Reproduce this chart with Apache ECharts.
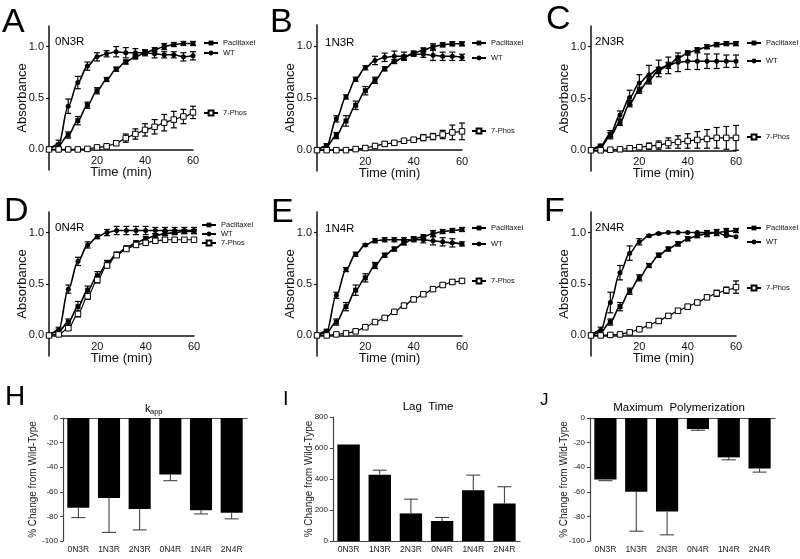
<!DOCTYPE html>
<html><head><meta charset="utf-8">
<script src="https://cdn.jsdelivr.net/npm/echarts@6/dist/echarts.min.js"></script>
<style>html,body{margin:0;padding:0;background:#fff}#c{width:800px;height:559px}</style>
</head><body><div id="c"></div>
<script>
const FONT = 'Liberation Sans, Arial, Helvetica, sans-serif';

// ---------- data ----------
const time = [0, 4, 8, 12, 16, 20, 24, 28, 32, 36, 40, 44, 48, 52, 56, 60];
const panelNames = ['0N3R', '1N3R', '2N3R', '0N4R', '1N4R', '2N4R'];
const seriesNames = ['Paclitaxel', 'WT', '7-Phos'];

const A_wt   = [0, 0.05, 0.42, 0.65, 0.81, 0.90, 0.93, 0.95, 0.94, 0.94, 0.94, 0.93, 0.92, 0.92, 0.90, 0.91];
const A_wtE  = [0, 0.04, 0.07, 0.06, 0.04, 0.04, 0.03, 0.05, 0.05, 0.04, 0.03, 0.04, 0.03, 0.03, 0.04, 0.04];
const A_pac  = [0, 0.04, 0.14, 0.28, 0.43, 0.57, 0.68, 0.78, 0.85, 0.90, 0.94, 0.97, 1.00, 1.02, 1.03, 1.03];
const A_pacE = [0, 0.02, 0.03, 0.04, 0.03, 0.03, 0.02, 0.02, 0.02, 0.02, 0.02, 0.02, 0.03, 0.02, 0.02, 0.02];
const A_ph   = [0, 0, 0, 0, 0.005, 0.02, 0.03, 0.06, 0.11, 0.15, 0.19, 0.22, 0.26, 0.29, 0.32, 0.36];
const A_phE  = [0, 0, 0, 0, 0.005, 0.01, 0.01, 0.02, 0.04, 0.05, 0.06, 0.07, 0.08, 0.08, 0.07, 0.06];

const B_wt   = [0, 0.04, 0.30, 0.51, 0.68, 0.79, 0.86, 0.89, 0.90, 0.90, 0.92, 0.92, 0.91, 0.90, 0.90, 0.89];
const B_wtE  = [0, 0.02, 0.03, 0.02, 0.02, 0.02, 0.04, 0.04, 0.05, 0.04, 0.02, 0.03, 0.05, 0.04, 0.04, 0.03];
const B_pac  = [0, 0.04, 0.14, 0.28, 0.43, 0.57, 0.67, 0.78, 0.85, 0.89, 0.93, 0.96, 0.99, 1.01, 1.02, 1.02];
const B_pacE = [0, 0.02, 0.03, 0.05, 0.04, 0.04, 0.03, 0.02, 0.02, 0.02, 0.02, 0.02, 0.03, 0.02, 0.02, 0.02];
const B_ph   = [0, 0, 0, 0, 0.01, 0.02, 0.04, 0.06, 0.07, 0.09, 0.10, 0.12, 0.13, 0.15, 0.17, 0.18];
const B_phE  = [0, 0, 0, 0.01, 0.01, 0.02, 0.02, 0.02, 0.02, 0.02, 0.02, 0.03, 0.03, 0.04, 0.07, 0.08];

const C_wt   = [0, 0.04, 0.16, 0.34, 0.51, 0.65, 0.73, 0.79, 0.82, 0.85, 0.86, 0.86, 0.86, 0.86, 0.86, 0.86];
const C_wtE  = [0, 0.02, 0.03, 0.04, 0.07, 0.08, 0.09, 0.08, 0.08, 0.09, 0.08, 0.08, 0.07, 0.07, 0.06, 0.06];
const C_pac  = [0, 0.03, 0.14, 0.27, 0.45, 0.58, 0.68, 0.77, 0.82, 0.89, 0.94, 0.97, 1.00, 1.02, 1.03, 1.03];
const C_pacE = [0, 0.02, 0.03, 0.03, 0.03, 0.03, 0.03, 0.03, 0.03, 0.02, 0.02, 0.02, 0.02, 0.02, 0.02, 0.02];
const C_ph   = [0, 0, 0.005, 0.01, 0.02, 0.03, 0.04, 0.05, 0.07, 0.08, 0.09, 0.10, 0.11, 0.12, 0.12, 0.12];
const C_phE  = [0, 0, 0.01, 0.01, 0.02, 0.02, 0.03, 0.04, 0.05, 0.06, 0.07, 0.08, 0.09, 0.10, 0.11, 0.12];

const D_wt   = [0, 0.05, 0.45, 0.72, 0.88, 0.96, 1.00, 1.02, 1.02, 1.02, 1.02, 1.02, 1.02, 1.02, 1.02, 1.02];
const D_wtE  = [0, 0.03, 0.04, 0.04, 0.03, 0.02, 0.03, 0.04, 0.04, 0.04, 0.04, 0.03, 0.03, 0.03, 0.03, 0.03];
const D_pac  = [0, 0.04, 0.13, 0.28, 0.44, 0.58, 0.70, 0.79, 0.85, 0.90, 0.94, 0.97, 0.99, 1.00, 1.01, 1.01];
const D_pacE = [0, 0.02, 0.03, 0.05, 0.04, 0.04, 0.03, 0.02, 0.02, 0.02, 0.02, 0.02, 0.02, 0.02, 0.02, 0.02];
const D_ph   = [0, 0.01, 0.07, 0.21, 0.38, 0.54, 0.68, 0.78, 0.84, 0.88, 0.90, 0.92, 0.93, 0.93, 0.93, 0.93];
const D_phE  = [0, 0.01, 0.02, 0.03, 0.03, 0.03, 0.02, 0.02, 0.02, 0.02, 0.02, 0.02, 0.02, 0.02, 0.02, 0.02];

const E_wt   = [0, 0.04, 0.39, 0.64, 0.79, 0.88, 0.92, 0.93, 0.93, 0.93, 0.93, 0.93, 0.92, 0.91, 0.90, 0.89];
const E_wtE  = [0, 0.02, 0.03, 0.02, 0.02, 0.01, 0.02, 0.02, 0.02, 0.02, 0.02, 0.03, 0.04, 0.04, 0.04, 0.02];
const E_pac  = [0, 0.03, 0.13, 0.28, 0.44, 0.56, 0.68, 0.78, 0.84, 0.90, 0.94, 0.96, 0.99, 1.01, 1.02, 1.03];
const E_pacE = [0, 0.02, 0.03, 0.04, 0.05, 0.04, 0.03, 0.02, 0.02, 0.02, 0.02, 0.02, 0.03, 0.02, 0.02, 0.02];
const E_ph   = [0, 0, 0.01, 0.02, 0.04, 0.08, 0.13, 0.17, 0.23, 0.29, 0.35, 0.40, 0.45, 0.49, 0.52, 0.53];
const E_phE  = [0, 0, 0.01, 0.01, 0.01, 0.01, 0.01, 0.01, 0.01, 0.02, 0.02, 0.02, 0.02, 0.02, 0.02, 0.02];

const F_wt   = [0, 0.05, 0.32, 0.61, 0.80, 0.91, 0.97, 0.99, 1.00, 1.00, 1.00, 1.00, 1.00, 1.00, 0.97, 0.96];
const F_wtE  = [0, 0.03, 0.10, 0.07, 0.07, 0.03, 0.01, 0.01, 0, 0, 0, 0, 0, 0, 0, 0];
const F_pac  = [0, 0.03, 0.13, 0.28, 0.43, 0.56, 0.68, 0.78, 0.84, 0.89, 0.94, 0.97, 0.99, 1.00, 1.01, 1.02];
const F_pacE = [0, 0.02, 0.03, 0.04, 0.03, 0.03, 0.02, 0.02, 0.02, 0.02, 0.02, 0.02, 0.03, 0.03, 0.03, 0.02];
const F_ph   = [0, 0, 0.005, 0.01, 0.03, 0.06, 0.10, 0.14, 0.19, 0.24, 0.28, 0.32, 0.37, 0.41, 0.44, 0.47];
const F_phE  = [0, 0, 0.01, 0.01, 0.01, 0.01, 0.01, 0.02, 0.02, 0.02, 0.02, 0.02, 0.02, 0.03, 0.03, 0.06];

const barCategories = ['0N3R', '1N3R', '2N3R', '0N4R', '1N4R', '2N4R'];
const H_vals = [-73, -65, -74, -46, -75, -77];
const H_err  = [8, 28, 17, 5, 3, 5];
const I_vals = [622, 428, 178, 129, 328, 242];
const I_err  = [0, 29, 92, 23, 97, 108];
const J_vals = [-50, -60, -76, -9, -32, -41];
const J_err  = [1, 32, 19, 1, 2, 3];

const yTicksCurve = [0, 0.5, 1.0];
const xTicksCurve = [20, 40, 60];

// ---------- layout (positions only) ----------
const curvePanels = [
  {wt: A_wt, wtE: A_wtE, pac: A_pac, pacE: A_pacE, ph: A_ph, phE: A_phE},
  {wt: B_wt, wtE: B_wtE, pac: B_pac, pacE: B_pacE, ph: B_ph, phE: B_phE},
  {wt: C_wt, wtE: C_wtE, pac: C_pac, pacE: C_pacE, ph: C_ph, phE: C_phE},
  {wt: D_wt, wtE: D_wtE, pac: D_pac, pacE: D_pacE, ph: D_ph, phE: D_phE},
  {wt: E_wt, wtE: E_wtE, pac: E_pac, pacE: E_pacE, ph: E_ph, phE: E_phE},
  {wt: F_wt, wtE: F_wtE, pac: F_pac, pacE: F_pacE, ph: F_ph, phE: F_phE}
];
const curveGrids = [
  {left: 49, top: 26, width: 144, height: 144},
  {left: 317, top: 25, width: 145, height: 146},
  {left: 591, top: 26, width: 145, height: 145},
  {left: 49, top: 212, width: 145, height: 144},
  {left: 317, top: 212, width: 145, height: 144},
  {left: 591, top: 212, width: 145, height: 144}
];
const legendPos = [ // [x, yCenter] for Paclitaxel, WT, 7-Phos
  [203, [43, 53, 113]],
  [471, [43, 58, 131]],
  [746, [43, 61, 137]],
  [201, [225, 234, 243]],
  [471, [228, 244, 281]],
  [746, [228, 242, 288]]
];
const barGrids = [
  {left: 63, top: 418, width: 184, height: 123},
  {left: 333, top: 417, width: 187, height: 124},
  {left: 590, top: 418, width: 185, height: 123}
];

function errCurve(params, api) {
  const t = api.value(0), y = api.value(1), e = api.value(2);
  if (!e) return null;
  const a = api.coord([t, y + e]), b = api.coord([t, y - e]);
  const w = 3, st = {stroke: '#000', lineWidth: 1.2};
  return {type: 'group', children: [
    {type: 'line', shape: {x1: a[0], y1: a[1], x2: b[0], y2: b[1]}, style: st},
    {type: 'line', shape: {x1: a[0] - w, y1: a[1], x2: a[0] + w, y2: a[1]}, style: st},
    {type: 'line', shape: {x1: b[0] - w, y1: b[1], x2: b[0] + w, y2: b[1]}, style: st}
  ]};
}
function errBar(params, api) {
  const k = api.value(0), v = api.value(1), e = api.value(2);
  if (!e) return null;
  const s = v < 0 ? -1 : 1;
  const p0 = api.coord([k, v]), p1 = api.coord([k, v + s * e]);
  const w = 7, st = {stroke: '#333', lineWidth: 1};
  return {type: 'group', children: [
    {type: 'line', shape: {x1: p0[0], y1: p0[1], x2: p1[0], y2: p1[1]}, style: st},
    {type: 'line', shape: {x1: p1[0] - w, y1: p1[1], x2: p1[0] + w, y2: p1[1]}, style: st}
  ]};
}

const grid = [], xAxis = [], yAxis = [], series = [], legend = [];

curvePanels.forEach((d, i) => {
  grid.push(Object.assign({containLabel: false}, curveGrids[i]));
  xAxis.push({
    type: 'value', gridIndex: i, min: 0, max: 60,
    axisLine: {show: true, onZero: true, lineStyle: {color: '#111', width: 1.5}},
    axisTick: {show: false},
    axisLabel: {show: true, customValues: xTicksCurve, fontSize: 11, color: '#111', margin: -15, fontFamily: FONT},
    splitLine: {show: false},
    name: 'Time (min)', nameLocation: 'middle', nameGap: -4, nameMoveOverlap: false,
    nameTextStyle: {fontSize: 13, color: '#111', fontFamily: FONT}
  });
  yAxis.push({
    type: 'value', gridIndex: i, min: -0.2, max: 1.2,
    axisLine: {show: true, onZero: false, lineStyle: {color: '#111', width: 1.5}},
    axisTick: {show: true, customValues: yTicksCurve, length: 3, lineStyle: {color: '#111', width: 1.2}},
    axisLabel: {show: true, customValues: yTicksCurve, formatter: v => Number(v).toFixed(1), fontSize: 11, color: '#111', margin: 5, fontFamily: FONT},
    splitLine: {show: false},
    name: 'Absorbance', nameLocation: 'middle', nameGap: 20, nameMoveOverlap: false,
    nameTextStyle: {fontSize: 13, color: '#111', fontFamily: FONT}
  });
  const defs = [
    {name: 'Paclitaxel', v: d.pac, e: d.pacE, symbol: 'rect', size: 5, fill: '#000'},
    {name: 'WT', v: d.wt, e: d.wtE, symbol: 'circle', size: 5, fill: '#000'},
    {name: '7-Phos', v: d.ph, e: d.phE, symbol: 'rect', size: 5.5, fill: '#fff'}
  ];
  defs.forEach((s, j) => {
    series.push({
      type: 'custom', xAxisIndex: i, yAxisIndex: i, renderItem: errCurve, silent: true, z: 2,
      encode: {x: 0, y: 1},
      data: time.map((t, k) => [t, s.v[k], s.e[k]])
    });
    series.push({
      type: 'line', name: s.name, xAxisIndex: i, yAxisIndex: i, z: 3,
      data: time.map((t, k) => [t, s.v[k]]),
      smooth: 0.35, smoothMonotone: 'x',
      symbol: s.symbol, symbolSize: s.size, showSymbol: true, showAllSymbol: true,
      lineStyle: {color: '#000', width: s.fill === '#fff' ? 1.2 : 1.6},
      itemStyle: {color: s.fill, borderColor: '#000', borderWidth: s.fill === '#fff' ? 1 : 0}
    });
    legend.push({
      data: [s.name], left: legendPos[i][0], top: legendPos[i][1][j] - 4.5,
      padding: 0, itemWidth: 14, itemHeight: 6, selectedMode: false,
      textStyle: {fontSize: 7.5, color: '#111', fontFamily: FONT, lineHeight: 9}
    });
  });
});

// bar panels
const barPanels = [
  {vals: H_vals, err: H_err, min: -100, max: 0, interval: 20, negative: true},
  {vals: I_vals, err: I_err, min: 0, max: 800, interval: 200, negative: false},
  {vals: J_vals, err: J_err, min: -100, max: 0, interval: 20, negative: true}
];
const yNameGaps = [25, 19, 21];
barPanels.forEach((b, n) => {
  const gi = grid.length;
  grid.push(Object.assign({containLabel: false}, barGrids[n]));
  const xi = xAxis.length;
  xAxis.push({
    type: 'category', gridIndex: gi, data: barCategories, position: 'bottom',
    axisLine: {show: !b.negative, onZero: false, lineStyle: {color: '#444', width: 1.2}},
    axisTick: {show: false},
    axisLabel: {fontSize: 8.5, color: '#222', margin: 4, fontFamily: FONT, interval: 0}
  });
  if (b.negative) {
    xAxis.push({
      type: 'category', gridIndex: gi, data: barCategories, position: 'top',
      axisLine: {show: true, onZero: false, lineStyle: {color: '#444', width: 1.2}},
      axisTick: {show: false}, axisLabel: {show: false}
    });
  }
  const yi = yAxis.length;
  yAxis.push({
    type: 'value', gridIndex: gi, min: b.min, max: b.max, interval: b.interval,
    axisLine: {show: true, lineStyle: {color: '#444', width: 1.2}},
    axisTick: {show: true, length: 3, lineStyle: {color: '#444'}},
    axisLabel: {fontSize: 8, color: '#222', margin: 5, fontFamily: FONT},
    splitLine: {show: false},
    name: '% Change from Wild-Type', nameLocation: 'middle', nameGap: yNameGaps[n], nameMoveOverlap: false,
    nameTextStyle: {fontSize: 10, color: '#222', fontFamily: FONT}
  });
  series.push({
    type: 'bar', xAxisIndex: xi, yAxisIndex: yi, data: b.vals, barWidth: '72%',
    itemStyle: {color: '#000'}, z: 2
  });
  series.push({
    type: 'custom', xAxisIndex: xi, yAxisIndex: yi, renderItem: errBar, z: 3, silent: true,
    encode: {x: 0, y: 1},
    data: b.vals.map((v, k) => [k, v, b.err[k]])
  });
});

function txt(text, x, y, size, extra) {
  return {type: 'text', x: x, y: y, silent: true, z: 10,
    style: Object.assign({text: text, fontSize: size, fontFamily: FONT, fill: '#000',
      align: 'left', verticalAlign: 'top'}, extra || {})};
}
const graphic = [
  txt('A', 2, 6, 34), txt('B', 270, 6, 34), txt('C', 546, 3, 34),
  txt('D', 4, 195, 34), txt('E', 271, 196, 34), txt('F', 544, 195, 34),
  txt('H', 5, 383, 28), txt('I', 283, 389, 20), txt('J', 540, 392, 17),
  txt(panelNames[0], 55, 36, 11.5), txt(panelNames[1], 325, 37, 11.5), txt(panelNames[2], 595, 36, 11.5),
  txt(panelNames[3], 55, 222, 11.5), txt(panelNames[4], 325, 223, 11.5), txt(panelNames[5], 595, 222, 11.5),
  txt('k', 145, 403, 11), txt('app', 150, 408, 7.5),
  txt('Lag  Time', 428, 407, 11.5, {align: 'center', verticalAlign: 'middle'}),
  txt('Maximum  Polymerization', 679, 408, 11.5, {align: 'center', verticalAlign: 'middle'})
];

const chart = echarts.init(document.getElementById('c'), null, {renderer: 'canvas'});
chart.setOption({
  animation: false,
  backgroundColor: '#fff',
  textStyle: {fontFamily: FONT},
  grid: grid, xAxis: xAxis, yAxis: yAxis, series: series, legend: legend, graphic: graphic
});
</script></body></html>
